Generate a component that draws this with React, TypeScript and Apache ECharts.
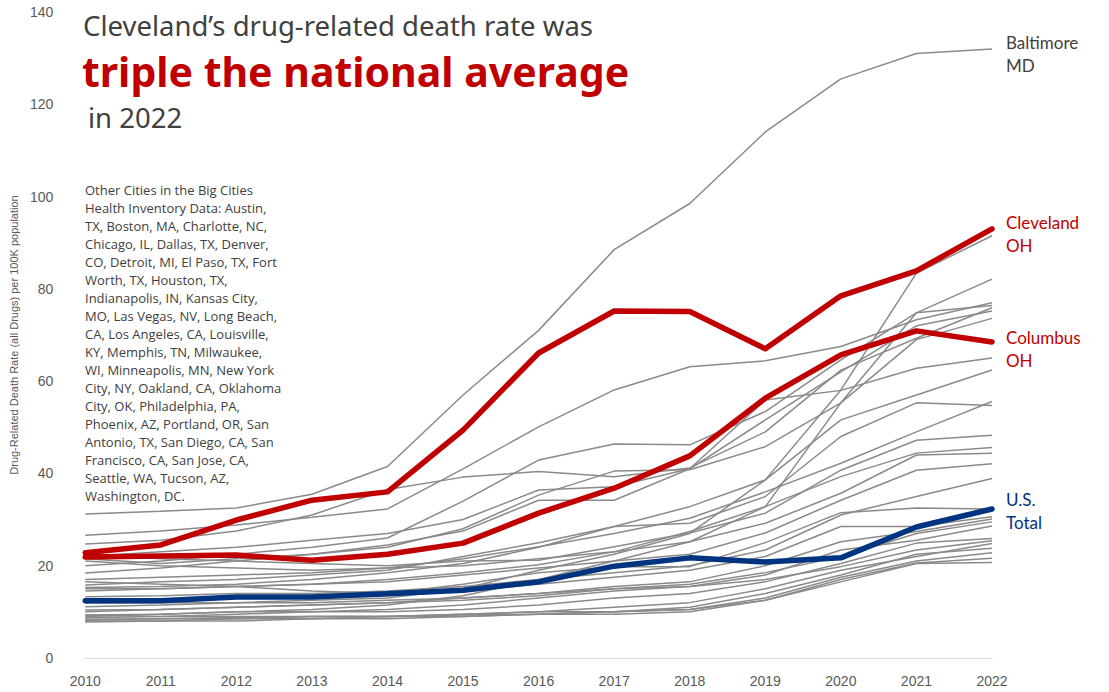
import React, { useEffect, useRef } from "react";
import * as echarts from "echarts";

const years = ["2010","2011","2012","2013","2014","2015","2016","2017","2018","2019","2020","2021","2022"];

const cleveland = [22.8, 24.5, 29.9, 34.2, 36.0, 49.4, 66.1, 75.2, 75.1, 67.0, 78.5, 83.9, 93.0];
const columbus = [21.9, 22.1, 22.3, 21.2, 22.5, 24.9, 31.4, 36.8, 43.8, 56.3, 65.7, 70.9, 68.5];
const usTotal = [12.4, 12.4, 13.2, 13.2, 13.9, 14.7, 16.5, 19.9, 21.7, 20.8, 21.7, 28.4, 32.3];
const baltimore = [31.2, 31.8, 32.5, 35.5, 41.5, 57.0, 71.0, 88.5, 98.5, 114.0, 125.5, 131.0, 132.0];

const otherCities: number[][] = [
  [11.1, 11.5, 12, 12.5, 13, 15, 19, 22.5, 27, 38.6, 58.1, 83.4, 91.5],
  [9.3, 9.5, 10, 10.5, 11.5, 13.5, 17, 21, 25.2, 32.8, 55.3, 74.8, 82.1],
  [26.6, 27.5, 28.8, 30.5, 32.3, 41, 50.1, 58.1, 63.1, 64.4, 67.5, 73.3, 77],
  [20, 21, 22.5, 24, 26, 34, 42.9, 46.4, 46.2, 53.4, 64.6, 74.8, 76.4],
  [24.7, 25.5, 27.5, 31, 36.5, 39.2, 40.4, 39.3, 41.2, 49, 62.4, 69.3, 75.9],
  [22, 23, 24, 25.5, 27, 30, 36.4, 37.1, 41, 51.6, 62, 72, 75.2],
  [18.4, 19.5, 21, 22.5, 24, 28, 35.3, 40.5, 40.8, 45.8, 55.3, 69, 73.6],
  [21.5, 20.5, 21.5, 22.5, 24.5, 27.5, 34.2, 34.2, 41, 55.9, 58, 62.8, 65],
  [15.8, 16.5, 17, 18, 19, 22, 25, 28.5, 32.8, 38.6, 51.6, 57, 62.4],
  [17, 17.5, 18, 18.5, 19.5, 21.5, 24.1, 27, 30.3, 36, 42.2, 49, 55.6],
  [15.3, 15.5, 16, 17, 18.5, 20.5, 24, 28.5, 29.2, 35, 48, 55.3, 54.7],
  [22.5, 21.5, 21, 20.5, 20, 21, 21.2, 24.1, 27.1, 31.4, 40.7, 47.2, 48.3],
  [14.5, 15, 15.5, 16, 17, 18.5, 20.2, 23, 27.4, 32.8, 39.3, 44.4, 45.6],
  [21, 20, 19.5, 19, 19.5, 20, 21.5, 23, 25.2, 29.2, 35.7, 44, 44.4],
  [15, 15, 15.5, 16, 16.5, 18, 19.5, 21, 22.5, 27.1, 34.2, 40.7, 42.1],
  [13.3, 13.5, 14, 14, 14.5, 15.5, 17, 18.5, 20, 23.4, 31, 35, 38.9],
  [16.5, 16, 15.5, 14.5, 14, 16, 18.5, 19.8, 19.8, 25, 31.5, 32.5, 32.3],
  [12.5, 12.5, 13, 13, 13.5, 14.5, 16, 17.5, 19, 22, 28.5, 28.5, 30.6],
  [10.4, 10.5, 11, 11.5, 12, 13, 14, 15.5, 16.5, 20, 25.2, 27.4, 30.1],
  [10, 10.5, 11, 11.5, 12, 12.5, 13.5, 15, 16, 18.5, 22, 27, 29.5],
  [9, 9.5, 10, 10, 10.5, 11.5, 13, 14.5, 15.5, 18, 23.4, 25.5, 28.6],
  [8.7, 9, 9.5, 10, 10, 10.5, 11.5, 13, 14, 16.5, 20.5, 24.9, 25.9],
  [11.9, 12, 12, 12, 12.5, 13, 14, 15, 15.5, 17, 19.8, 23.4, 25.4],
  [8.4, 8.5, 8.8, 9, 9, 9.5, 10, 11, 12, 15, 19, 22, 24.8],
  [8.2, 8.5, 8.5, 9, 9, 9.5, 10, 10, 11, 14, 18, 22.5, 23.8],
  [8, 8, 8.5, 8.5, 9, 9, 9.5, 10, 10.5, 13, 17.5, 21, 22.8],
  [7.8, 8, 8, 8.5, 8.5, 9, 9.5, 9.5, 10, 12.5, 17, 20.6, 21.6],
  [9.3, 9, 9, 9, 9, 9.3, 9.5, 10, 10.5, 12.5, 16.5, 20.5, 20.7],
];

const titleLine1 = "Cleveland’s drug-related death rate was";
const titleLine2 = "triple the national average";
const titleLine3 = "in 2022";
const yAxisName = "Drug-Related Death Rate (all Drugs) per 100K population";
const otherCitiesNote = [
  "Other Cities in the Big Cities",
  "Health Inventory Data: Austin,",
  "TX, Boston, MA, Charlotte, NC,",
  "Chicago, IL, Dallas, TX, Denver,",
  "CO, Detroit, MI, El Paso, TX, Fort",
  "Worth, TX, Houston, TX,",
  "Indianapolis, IN, Kansas City,",
  "MO, Las Vegas, NV, Long Beach,",
  "CA, Los Angeles, CA, Louisville,",
  "KY, Memphis, TN, Milwaukee,",
  "WI, Minneapolis, MN, New York",
  "City, NY, Oakland, CA, Oklahoma",
  "City, OK, Philadelphia, PA,",
  "Phoenix, AZ, Portland, OR, San",
  "Antonio, TX, San Diego, CA, San",
  "Francisco, CA, San Jose, CA,",
  "Seattle, WA, Tucson, AZ,",
  "Washington, DC.",
];

const GREY = "#8a8a8a";
const RED = "#c00000";
const NAVY = "#003380";
const LABEL_FONT = "Lato, 'Noto Sans', sans-serif";
const TITLE_FONT = "'Noto Sans', sans-serif";

export default function App() {
  const ref = useRef<HTMLDivElement>(null);
  useEffect(() => {
    if (!ref.current) return;
    const chart = echarts.init(ref.current, undefined, { renderer: "svg" });

    const greySeries = otherCities.map((d, i) => ({
      name: "city" + i,
      type: "line",
      data: d,
      symbol: "none",
      silent: true,
      lineStyle: { color: GREY, width: 1.5 },
      z: 2,
    }));

    const endLabel = (text: string, color: string, dy: number) => ({
      show: true,
      formatter: text,
      color,
      fontFamily: LABEL_FONT,
      fontSize: 17,
      lineHeight: 23,
      distance: 14,
      offset: [0, dy],
    });

    chart.setOption({
      animation: false,
      grid: { left: 85, right: 117, top: 12, bottom: 34 },
      xAxis: {
        type: "category",
        data: years,
        boundaryGap: false,
        axisLine: { show: true, lineStyle: { color: "#d9d9d9", width: 1 } },
        axisTick: { show: false },
        axisLabel: { color: "#595959", fontSize: 14, fontFamily: "'Liberation Sans', Arial, sans-serif", margin: 16 },
      },
      yAxis: {
        type: "value",
        min: 0,
        max: 140,
        interval: 20,
        splitLine: { show: false },
        axisLine: { show: false },
        axisTick: { show: false },
        axisLabel: { color: "#595959", fontSize: 14, fontFamily: "'Liberation Sans', Arial, sans-serif", margin: 32 },
        name: yAxisName,
        nameLocation: "middle",
        nameGap: 62,
        nameTextStyle: { color: "#595959", fontSize: 11, fontFamily: "'Liberation Sans', Arial, sans-serif" },
      },
      series: [
        ...greySeries,
        {
          name: "Baltimore",
          type: "line",
          data: baltimore,
          symbol: "none",
          lineStyle: { color: GREY, width: 1.5 },
          endLabel: endLabel("Baltimore\nMD", "#404040", 5),
          z: 3,
        },
        {
          name: "U.S. Total",
          type: "line",
          data: usTotal,
          symbol: "none",
          lineStyle: { color: NAVY, width: 5.5, cap: "round", join: "round" },
          endLabel: endLabel("U.S.\nTotal", NAVY, 2),
          z: 4,
        },
        {
          name: "Columbus",
          type: "line",
          data: columbus,
          symbol: "none",
          lineStyle: { color: RED, width: 5.5, cap: "round", join: "round" },
          endLabel: endLabel("Columbus\nOH", RED, 7),
          z: 5,
        },
        {
          name: "Cleveland",
          type: "line",
          data: cleveland,
          symbol: "none",
          lineStyle: { color: RED, width: 5.5, cap: "round", join: "round" },
          endLabel: endLabel("Cleveland\nOH", RED, 5),
          z: 6,
        },
      ],
      graphic: [
        {
          type: "text",
          left: 83,
          top: 11,
          style: { text: titleLine1, fill: "#404040", font: `27.5px ${TITLE_FONT}` },
        },
        {
          type: "text",
          left: 82,
          top: 50,
          style: { text: titleLine2, fill: RED, font: `bold 41px ${TITLE_FONT}` },
        },
        {
          type: "text",
          left: 88,
          top: 103,
          style: { text: titleLine3, fill: "#404040", font: `27.5px ${TITLE_FONT}` },
        },
        {
          type: "text",
          left: 85,
          top: 181,
          style: {
            text: otherCitiesNote.join("\n"),
            fill: "#404040",
            font: `13px 'Open Sans', sans-serif`,
            lineHeight: 18,
          },
        },
      ],
    });
    return () => chart.dispose();
  }, []);
  return (
    <div
      ref={ref}
      style={{ position: "fixed", left: 0, top: 0, width: 1109, height: 692, background: "#fff" }}
    />
  );
}
